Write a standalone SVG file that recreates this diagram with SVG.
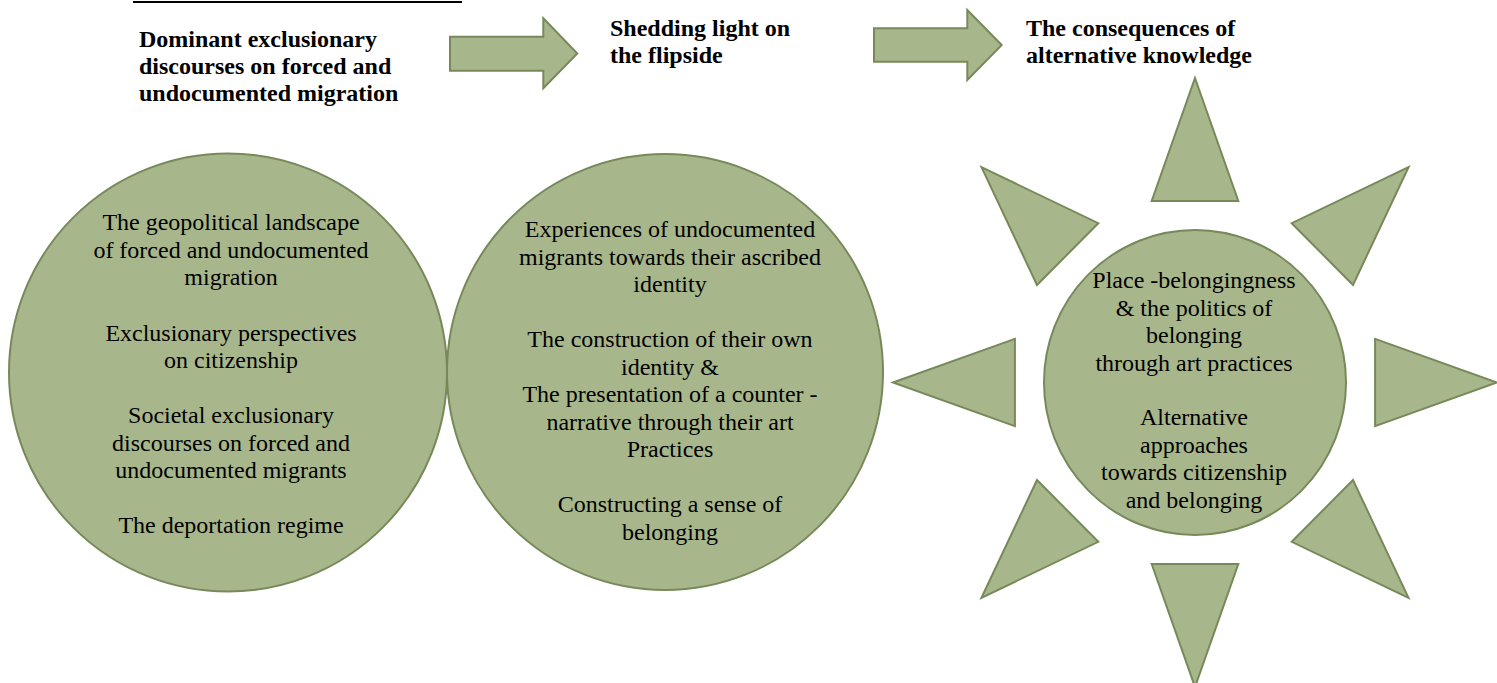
<svg xmlns="http://www.w3.org/2000/svg" width="1497" height="683" viewBox="0 0 1497 683">
<style>
.shape{fill:#a8b78b;stroke:#77895a;stroke-width:2;stroke-linejoin:miter}
.body{font-family:"Liberation Serif","Times New Roman",serif;font-size:24px;fill:#000;text-anchor:middle}
.head{font-family:"Liberation Serif","Times New Roman",serif;font-size:24px;font-weight:bold;fill:#000}
</style>
<rect width="1497" height="683" fill="#ffffff"/>
<line x1="133" y1="2" x2="462" y2="2" stroke="#000" stroke-width="2.2"/>
<g id="heading1">
<text class="head" x="139" y="47">Dominant exclusionary</text>
<text class="head" x="139" y="74">discourses on forced and</text>
<text class="head" x="139" y="101">undocumented migration</text>
</g>
<g id="heading2">
<text class="head" x="610" y="36">Shedding light on</text>
<text class="head" x="610" y="63">the flipside</text>
</g>
<g id="heading3">
<text class="head" x="1026" y="36">The consequences of</text>
<text class="head" x="1026" y="63">alternative knowledge</text>
</g>
<g id="connectors">
<polygon class="shape" points="450,36.7 543.3,36.7 543.3,18.3 577.3,53.5 543.3,88.3 543.3,70.7 450,70.7"/>
<polygon class="shape" points="874,28.3 967.3,28.3 967.3,10 1001.7,45 967.3,80 967.3,61.7 874,61.7"/>
</g>
<g id="circle-dominant">
<circle class="shape" cx="228" cy="372.5" r="219" stroke-width="1.8"/>
<text class="body" x="231" y="230">The geopolitical landscape</text>
<text class="body" x="231" y="257.5">of forced and undocumented</text>
<text class="body" x="231" y="285">migration</text>
<text class="body" x="231" y="341">Exclusionary perspectives</text>
<text class="body" x="231" y="368">on citizenship</text>
<text class="body" x="231" y="423">Societal exclusionary</text>
<text class="body" x="231" y="450.5">discourses on forced and</text>
<text class="body" x="231" y="478">undocumented migrants</text>
<text class="body" x="231" y="533">The deportation regime</text>
</g>
<g id="circle-flipside">
<circle class="shape" cx="665" cy="372" r="218" stroke-width="1.8"/>
<text class="body" x="670" y="237">Experiences of undocumented</text>
<text class="body" x="670" y="264.5">migrants towards their ascribed</text>
<text class="body" x="670" y="292">identity</text>
<text class="body" x="670" y="347">The construction of their own</text>
<text class="body" x="670" y="374.5">identity &amp;</text>
<text class="body" x="670" y="402">The presentation of a counter -</text>
<text class="body" x="670" y="429.5">narrative through their art</text>
<text class="body" x="670" y="457">Practices</text>
<text class="body" x="670" y="512">Constructing a sense of</text>
<text class="body" x="670" y="539.5">belonging</text>
</g>
<g id="sun-consequences">
<polygon class="shape" points="1497,382.5 1375.1,426.2 1375.1,338.8"/>
<polygon class="shape" points="1408.5,167.2 1353,285 1291.7,223.2"/>
<polygon class="shape" points="1195,78 1238.3,200.9 1151.7,200.9"/>
<polygon class="shape" points="981.5,167.2 1098.3,223.2 1037,285"/>
<polygon class="shape" points="893,382.5 1014.9,338.8 1014.9,426.2"/>
<polygon class="shape" points="981.5,597.8 1037,480 1098.3,541.8"/>
<polygon class="shape" points="1195,687 1151.7,564.1 1238.3,564.1"/>
<polygon class="shape" points="1408.5,597.8 1291.7,541.8 1353,480"/>
<ellipse class="shape" cx="1195" cy="382.5" rx="151" ry="152.5"/>
<text class="body" x="1194" y="288">Place -belongingness</text>
<text class="body" x="1194" y="316">&amp; the politics of</text>
<text class="body" x="1194" y="343">belonging</text>
<text class="body" x="1194" y="371">through art practices</text>
<text class="body" x="1194" y="425">Alternative</text>
<text class="body" x="1194" y="453">approaches</text>
<text class="body" x="1194" y="480">towards citizenship</text>
<text class="body" x="1194" y="508">and belonging</text>
</g>
</svg>
